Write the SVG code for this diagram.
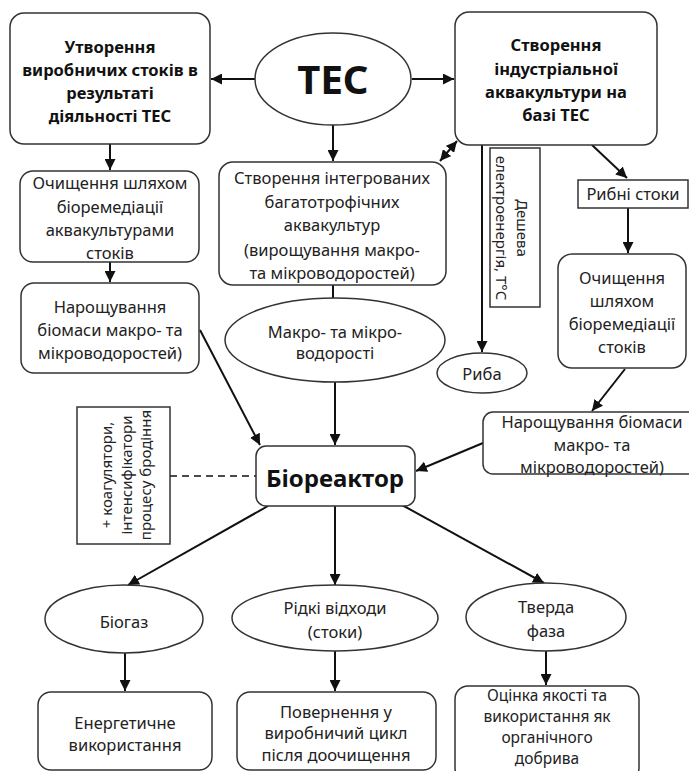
<svg xmlns="http://www.w3.org/2000/svg" width="689" height="771" viewBox="0 0 689 771">
<style>
.b{fill:#fff;stroke:#333;stroke-width:1.5}
.t{font-family:"Noto Sans","Open Sans",sans-serif;font-size:16.5px;fill:#222;text-anchor:middle}
.tb{font-family:"Noto Sans","Open Sans",sans-serif;font-size:16.5px;font-weight:bold;fill:#111;text-anchor:middle}
.c{stroke:#111;stroke-width:2;fill:none}
</style>
<defs>
<marker id="a" viewBox="0 0 10 10" refX="10" refY="5" markerWidth="5.5" markerHeight="5.5" orient="auto-start-reverse"><path d="M0,0L10,5L0,10z" fill="#111"/></marker>
</defs>
<rect width="689" height="771" fill="#fff"/>
<g id="connectors">
<path class="c" d="M255,79H211" marker-end="url(#a)"/>
<path class="c" d="M412,79H454" marker-end="url(#a)"/>
<path class="c" d="M333,125V161" marker-end="url(#a)"/>
<path class="c" d="M440,161L457,141" marker-start="url(#a)" marker-end="url(#a)"/>
<path class="c" d="M110,144V170" marker-end="url(#a)"/>
<path class="c" d="M110,262V282" marker-end="url(#a)"/>
<path class="c" d="M333,285V298"/>
<path class="c" d="M335,382V445" marker-end="url(#a)"/>
<path class="c" d="M200,330L260,445" marker-end="url(#a)"/>
<path class="c" d="M170,476H256" stroke-dasharray="7,5" style="stroke-width:1.5"/>
<path class="c" d="M482,145V352" marker-end="url(#a)"/>
<path class="c" d="M592,145L627,178" marker-end="url(#a)"/>
<path class="c" d="M628,208V253" marker-end="url(#a)"/>
<path class="c" d="M625,369L592,411" marker-end="url(#a)"/>
<path class="c" d="M483,443L416,471" marker-end="url(#a)"/>
<path class="c" d="M268,506L128,585" marker-end="url(#a)"/>
<path class="c" d="M335,506V585" marker-end="url(#a)"/>
<path class="c" d="M402,505L544,583" marker-end="url(#a)"/>
<path class="c" d="M125,653V691" marker-end="url(#a)"/>
<path class="c" d="M335,651V691" marker-end="url(#a)"/>
<path class="c" d="M546,651V685" marker-end="url(#a)"/>
</g>
<g id="tes">
<ellipse class="b" cx="333" cy="79" rx="78" ry="46"/>
<text class="tb" x="333" y="94" style="font-size:40px">ТЕС</text>
</g>
<g id="n1">
<rect class="b" x="10" y="13" width="200" height="131" rx="14"/>
<text class="tb" x="110" y="53">Утворення</text>
<text class="tb" x="110" y="76">виробничих стоків в</text>
<text class="tb" x="110" y="99">результаті</text>
<text class="tb" x="110" y="122">діяльності ТЕС</text>
</g>
<g id="n2">
<rect class="b" x="455" y="12" width="202" height="133" rx="14"/>
<text class="tb" x="556" y="51">Створення</text>
<text class="tb" x="556" y="75">індустріальної</text>
<text class="tb" x="556" y="98">аквакультури на</text>
<text class="tb" x="556" y="121">базі ТЕС</text>
</g>
<g id="n3">
<rect class="b" x="219" y="162" width="227" height="123" rx="14"/>
<text class="t" x="332" y="184">Створення інтегрованих</text>
<text class="t" x="332" y="208">багатотрофічних</text>
<text class="t" x="332" y="231">аквакультур</text>
<text class="t" x="332" y="256">(вирощування макро-</text>
<text class="t" x="332" y="279">та мікроводоростей)</text>
</g>
<g id="n4">
<rect class="b" x="20" y="171" width="179" height="91" rx="13"/>
<text class="t" x="110" y="189">Очищення шляхом</text>
<text class="t" x="110" y="213">біоремедіації</text>
<text class="t" x="110" y="236">аквакультурами</text>
<text class="t" x="110" y="259">стоків</text>
</g>
<g id="n5">
<rect class="b" x="21" y="283" width="178" height="90" rx="13"/>
<text class="t" x="110" y="313">Нарощування</text>
<text class="t" x="110" y="336">біомаси макро- та</text>
<text class="t" x="110" y="359">мікроводоростей)</text>
</g>
<g id="n6">
<ellipse class="b" cx="335" cy="340" rx="110" ry="42"/>
<text class="t" x="335" y="338">Макро- та мікро-</text>
<text class="t" x="335" y="359">водорості</text>
</g>
<g id="n7">
<rect class="b" x="490" y="148" width="50" height="159"/>
<g transform="translate(515,228) rotate(90)">
<text class="t" x="0" y="-2" style="font-size:15px">Дешева</text>
<text class="t" x="0" y="19" style="font-size:15px">електроенергія, T°C</text>
</g>
</g>
<g id="n8">
<ellipse class="b" cx="482" cy="373" rx="45" ry="20"/>
<text class="t" x="482" y="380">Риба</text>
</g>
<g id="n9">
<rect class="b" x="578" y="180" width="110" height="28"/>
<text class="t" x="633" y="200">Рибні стоки</text>
</g>
<g id="n10">
<rect class="b" x="558" y="254" width="128" height="114" rx="14"/>
<text class="t" x="622" y="284">Очищення</text>
<text class="t" x="622" y="307">шляхом</text>
<text class="t" x="622" y="330">біоремедіації</text>
<text class="t" x="622" y="353">стоків</text>
</g>
<g id="n11">
<rect class="b" x="483" y="412" width="220" height="62" rx="10"/>
<text class="t" x="592" y="428">Нарощування біомаси</text>
<text class="t" x="592" y="451">макро- та</text>
<text class="t" x="592" y="473">мікроводоростей)</text>
</g>
<g id="n12">
<rect class="b" x="77" y="407" width="93" height="137"/>
<g transform="translate(127,475) rotate(-90)">
<text class="t" x="0" y="-15" style="font-size:15px">+ коагулятори,</text>
<text class="t" x="0" y="5" style="font-size:15px">інтенсифікатори</text>
<text class="t" x="0" y="24" style="font-size:15px">процесу бродіння</text>
</g>
</g>
<g id="n13">
<rect class="b" x="256" y="446" width="159" height="60" rx="10"/>
<text class="tb" x="335" y="487" style="font-size:24px">Біореактор</text>
</g>
<g id="n14">
<ellipse class="b" cx="124" cy="619" rx="79" ry="34"/>
<text class="t" x="124" y="628">Біогаз</text>
</g>
<g id="n15">
<ellipse class="b" cx="335" cy="618" rx="103" ry="33"/>
<text class="t" x="335" y="614">Рідкі відходи</text>
<text class="t" x="335" y="638">(стоки)</text>
</g>
<g id="n16">
<ellipse class="b" cx="546" cy="617" rx="80" ry="34"/>
<text class="t" x="546" y="613">Тверда</text>
<text class="t" x="546" y="637">фаза</text>
</g>
<g id="n17">
<rect class="b" x="38" y="692" width="174" height="78" rx="13"/>
<text class="t" x="125" y="729">Енергетичне</text>
<text class="t" x="125" y="751">використання</text>
</g>
<g id="n18">
<rect class="b" x="237" y="692" width="199" height="78" rx="13"/>
<text class="t" x="336" y="718">Повернення у</text>
<text class="t" x="336" y="739">виробничий цикл</text>
<text class="t" x="336" y="761">після доочищення</text>
</g>
<g id="n19">
<rect class="b" x="455" y="686" width="184" height="95" rx="13"/>
<text class="t" x="547" y="701" style="font-size:15.5px">Оцінка якості та</text>
<text class="t" x="547" y="722" style="font-size:15.5px">використання як</text>
<text class="t" x="547" y="743" style="font-size:15.5px">органічного</text>
<text class="t" x="547" y="764" style="font-size:15.5px">добрива</text>
</g>
</svg>
